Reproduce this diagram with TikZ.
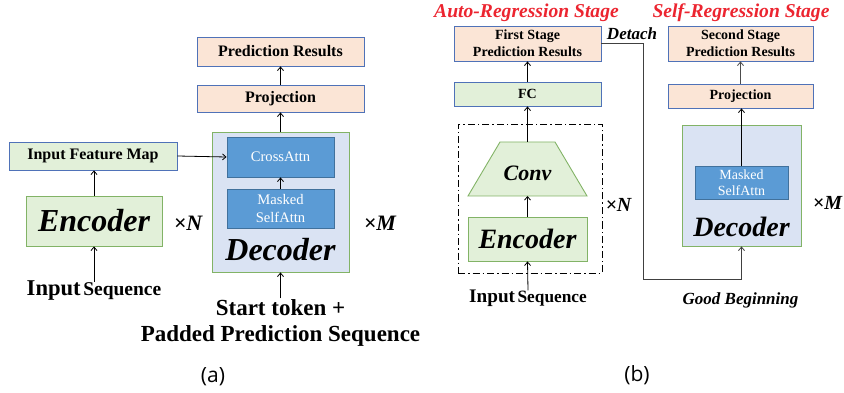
\documentclass[tikz,border=0pt]{standalone}
\usepackage{fontspec}
\setmainfont{Liberation Serif}
\newfontfamily\capfont{Open Sans}
\usetikzlibrary{arrows.meta}
\definecolor{peach}{HTML}{FBE5D6}
\definecolor{boxblue}{HTML}{4F72B8}
\definecolor{lgreen}{HTML}{E2F0D9}
\definecolor{ggreen}{HTML}{82B366}
\definecolor{lblue}{HTML}{DAE3F3}
\definecolor{attnfill}{HTML}{5B9BD5}
\definecolor{attnline}{HTML}{41719C}
\definecolor{stagered}{HTML}{EC2530}
\newcommand\fsz[2]{\fontsize{#1}{#2}\selectfont}
\begin{document}
\begin{tikzpicture}[x=1pt,y=-1pt,
  box/.style={rectangle, inner sep=0pt, line width=0.9pt, align=center},
  peachbox/.style={box, fill=peach, draw=boxblue, font=\fsz{16}{18}\bfseries},
  peachsmall/.style={box, fill=peach, draw=boxblue, font=\fsz{14}{17}\bfseries},
  greenblue/.style={box, fill=lgreen, draw=boxblue},
  greenbox/.style={box, fill=lgreen, draw=ggreen},
  decbox/.style={box, fill=lblue, draw=ggreen},
  attnbox/.style={box, fill=attnfill, draw=attnline, text=white},
  lbl/.style={inner sep=0pt, align=center},
  arr/.style={line width=0.8pt, -{Straight Barb[length=3.5pt,width=6pt]}},
  stage/.style={lbl, text=stagered, font=\fsz{19.6}{22}\bfseries\itshape},
  times/.style={lbl, font=\bfseries\itshape}
]
\useasboundingbox (0,0) rectangle (844,393);

% ---------------- (a) ----------------
\node[peachbox, minimum width=167, minimum height=29] (predA) at (280.5,51.5) {Prediction Results};
\node[peachbox, minimum width=167, minimum height=27] (projA) at (280.5,98.5) {Projection};
\node[decbox, minimum width=137, minimum height=140] (decA) at (280.5,202) {};
\node[attnbox, minimum width=107, minimum height=40, font=\fsz{14.6}{18}] (crossA) at (280.5,157) {CrossAttn};
\node[attnbox, minimum width=107, minimum height=39, font=\fsz{14.6}{18}] (maskA) at (280.5,208.5) {Masked\\SelfAttn};
\node[lbl, font=\fsz{32}{36}\bfseries\itshape] (decAlbl) at (280.5,250) {Decoder};
\node[greenblue, minimum width=168, minimum height=28, font=\fsz{16}{18}\bfseries] (ifm) at (93,156) {Input Feature Map};
\node[greenbox, minimum width=136, minimum height=50, font=\fsz{32}{36}\bfseries\itshape] (encA) at (94,221) {Encoder};
\node[times, font=\fsz{22}{24}\bfseries\itshape] (xNa) at (188,223) {×N};
\node[times, font=\fsz{22}{24}\bfseries\itshape] (xMa) at (380,223) {×M};
\node[lbl, font=\bfseries] (inseqA) at (94,291) {{\fsz{22.6}{26}Input} {\fsz{19.5}{22}Sequence}};
\node[lbl, font=\fsz{23}{26}\bfseries] (startA) at (280.5,323) {Start token +\\Padded Prediction Sequence};
\node[lbl, font=\capfont\fsz{21}{24}] (capA) at (213,377) {(a)};

\draw[arr] ([yshift=-1]inseqA.north) -- (encA.south);
\draw[arr] (encA.north) -- (encA.north |- ifm.south);
\draw[arr] (ifm.east) -- (crossA.west);
\draw[arr] (maskA.north) -- (crossA.south);
\draw[arr] (decA.north) -- (projA.south);
\draw[arr] (projA.north) -- (predA.south);
\draw[arr] ([yshift=1]startA.north) -- (decA.south);

% ---------------- (b) ----------------
\node[stage] (stage1) at (526.5,13) {Auto-Regression Stage};
\node[stage] (stage2) at (741,13) {Self-Regression Stage};
\node[peachsmall, minimum width=147, minimum height=35] (first) at (527.5,43.5) {First Stage\\Prediction Results};
\node[greenblue, minimum width=147, minimum height=24, font=\fsz{14}{17}\bfseries] (fc) at (527.5,94) {FC};
\node[rectangle, draw, line width=0.9pt, dash pattern=on 7pt off 3pt on 1.5pt off 3pt, minimum width=144, minimum height=149, inner sep=0pt] (loop) at (530,198.5) {};
\coordinate (convtop) at (527.5,142);
\coordinate (convbot) at (527.5,196);
\draw[fill=lgreen, draw=ggreen, line width=0.9pt] (500,142) -- (555,142) -- (587,196) -- (468,196) -- cycle;
\node[lbl, font=\fsz{22}{24}\bfseries\itshape] (conv) at (527.5,173) {Conv};
\node[greenbox, minimum width=119, minimum height=44, font=\fsz{28}{32}\bfseries\itshape] (encB) at (527.5,239) {Encoder};
\node[lbl, font=\bfseries] (inseqB) at (528,298) {{\fsz{19.2}{22}Input} {\fsz{17.3}{20}Sequence}};
\node[times, font=\fsz{20}{22}\bfseries\itshape] (xNb) at (618.5,205) {×N};

\node[peachsmall, minimum width=145, minimum height=35] (second) at (740.5,43.5) {Second Stage\\Prediction Results};
\node[peachsmall, minimum width=145, minimum height=24] (projB) at (740.5,96) {Projection};
\node[decbox, minimum width=119, minimum height=121] (decB) at (741.5,185.5) {};
\node[attnbox, minimum width=93, minimum height=33, font=\fsz{14}{16}] (maskB) at (741.5,182.5) {Masked\\SelfAttn};
\node[lbl, font=\fsz{28}{32}\bfseries\itshape] (decBlbl) at (741.5,227) {Decoder};
\node[times, font=\fsz{20}{22}\bfseries\itshape] (xMb) at (827.5,203) {×M};
\node[times, font=\fsz{17}{20}\bfseries\itshape] (good) at (740.5,300) {Good Beginning};
\node[times, font=\fsz{17}{20}\bfseries\itshape] (detach) at (632,34) {Detach};
\node[lbl, font=\capfont\fsz{21}{24}] (capB) at (637,375) {(b)};

\draw[arr] ([yshift=-1]inseqB.north) -- (encB.south);
\draw[arr] (encB.north) -- (convbot);
\draw[arr] (convtop) -- (fc.south);
\draw[arr] (fc.north) -- (first.south);
\coordinate (dcorner) at (643,279);
\draw[arr, draw=black!75] (first.east) -| (dcorner) -| (decB.south);
\draw[arr] (maskB.north) -- (maskB.north |- projB.south);
\draw[arr, draw=black!70] (projB.north) -- (projB.north |- second.south);
\end{tikzpicture}
\end{document}
